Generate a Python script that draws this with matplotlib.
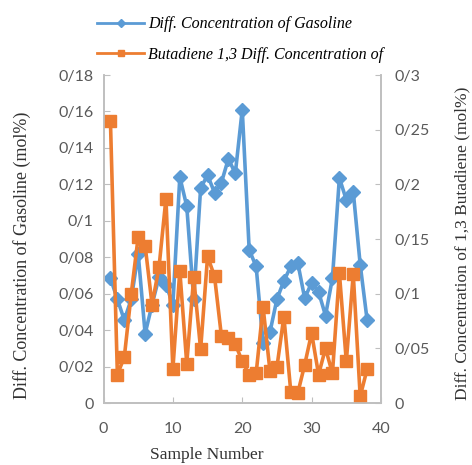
import matplotlib
matplotlib.use("Agg")
import matplotlib.pyplot as plt
from matplotlib.ticker import FuncFormatter, MultipleLocator

samples = list(range(1, 39))
gasoline = [0.0685, 0.057, 0.0455, 0.057, 0.082, 0.038, 0.054, 0.069, 0.065, 0.054,
            0.124, 0.108, 0.057, 0.118, 0.125, 0.1155, 0.121, 0.134, 0.126, 0.161,
            0.084, 0.075, 0.033, 0.039, 0.057, 0.067, 0.075, 0.077, 0.0575, 0.066,
            0.061, 0.048, 0.0685, 0.1235, 0.1115, 0.116, 0.076, 0.0455]
butadiene = [0.258, 0.026, 0.042, 0.100, 0.152, 0.144, 0.090, 0.124, 0.187, 0.031,
             0.121, 0.036, 0.115, 0.049, 0.134, 0.116, 0.061, 0.059, 0.054, 0.038,
             0.026, 0.027, 0.088, 0.029, 0.033, 0.079, 0.010, 0.009, 0.035, 0.064,
             0.026, 0.050, 0.027, 0.119, 0.038, 0.118, 0.006, 0.031]

BLUE = "#5B9BD5"
ORANGE = "#ED7D31"
GRID = "#BFBFBF"
TICK = "#595959"
SERIF = "Liberation Serif"
SANS = "Lato"

W, H = 472, 465
fig = plt.figure(figsize=(W / 100, H / 100), dpi=100)
ax1 = fig.add_axes([103.5 / W, (H - 403) / H, (381 - 103.5) / W, (403 - 75) / H])
ax2 = ax1.twinx()


def slash_fmt(v, pos):
    return ("%g" % round(v, 4)).replace(".", "/")


l1, = ax1.plot(samples, gasoline, color=BLUE, lw=2.6, marker="D", ms=7.5,
               label="Diff. Concentration of Gasoline")
l2, = ax2.plot(samples, butadiene, color=ORANGE, lw=2.6, marker="s", ms=8,
               label="Butadiene 1,3 Diff. Concentration of")

ax1.set_xlim(0, 40)
ax1.set_ylim(0, 0.18)
ax2.set_ylim(0, 0.3)
ax1.xaxis.set_major_locator(MultipleLocator(10))
ax1.yaxis.set_major_locator(MultipleLocator(0.02))
ax2.yaxis.set_major_locator(MultipleLocator(0.05))
ax1.yaxis.set_major_formatter(FuncFormatter(slash_fmt))
ax2.yaxis.set_major_formatter(FuncFormatter(slash_fmt))

for ax in (ax1, ax2):
    ax.spines["top"].set_visible(False)
    for side in ("left", "right", "bottom"):
        ax.spines[side].set_color(GRID)
        ax.spines[side].set_linewidth(1.2)

ax1.tick_params(axis="x", direction="in", length=4, color=GRID, pad=14,
                labelsize=11.5, labelcolor=TICK)
ax1.tick_params(axis="y", direction="in", length=4, color=GRID, pad=7,
                labelsize=11.5, labelcolor=TICK)
ax2.tick_params(axis="y", direction="in", length=4, color=GRID, pad=10,
                labelsize=11.5, labelcolor=TICK)
for lab in ax1.get_xticklabels() + ax1.get_yticklabels() + ax2.get_yticklabels():
    lab.set_family(SANS)

# axis titles placed in figure pixels
fig.text(22 / W, 1 - 255 / H, "Diff. Concentration of Gasoline (mol%)",
         rotation=90, ha="center", va="center", family=SERIF, fontsize=13, color="#333333")
fig.text(462 / W, 1 - 243 / H, "Diff. Concentration of 1,3 Butadiene (mol%)",
         rotation=90, ha="center", va="center", family=SERIF, fontsize=12.5, color="#333333")
fig.text(207 / W, 1 - 455 / H, "Sample Number", ha="center", va="center",
         family=SERIF, fontsize=12.5, color="#333333")

leg = fig.legend([l1, l2], [l1.get_label(), l2.get_label()], loc="upper left",
                 bbox_to_anchor=(83 / W, 1 - 2 / H), frameon=False,
                 handlelength=2.9, handletextpad=0.3, labelspacing=0.9,
                 prop={"family": SERIF, "style": "italic", "size": 11.5})
for h in leg.legend_handles:
    h.set_markersize(4.5)
    h.set_linewidth(2)

fig.savefig("out.png", dpi=100)
